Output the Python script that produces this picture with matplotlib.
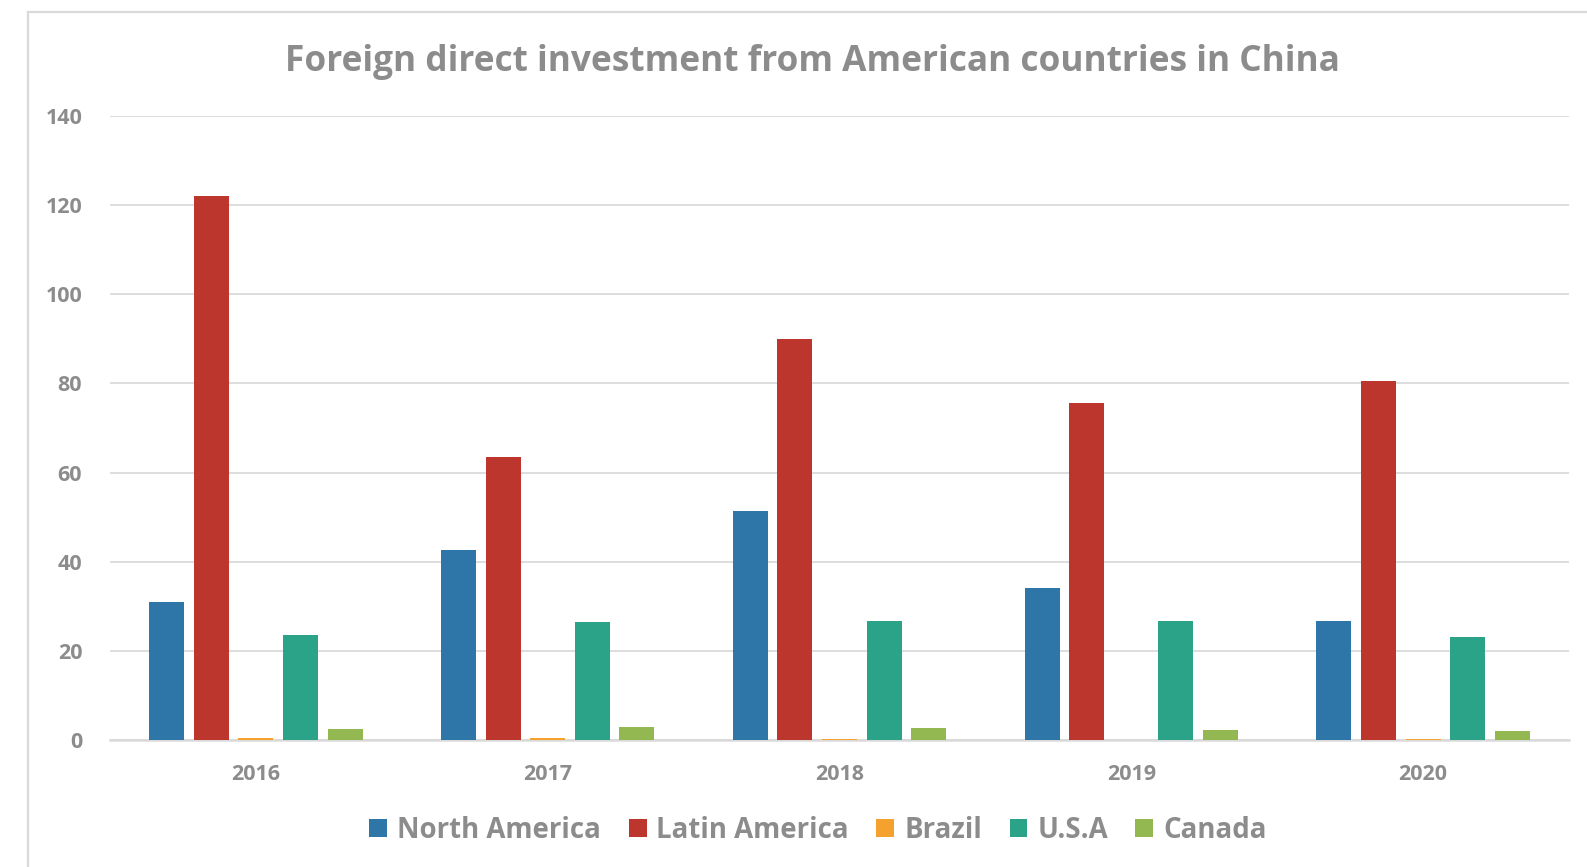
import matplotlib.pyplot as plt
import matplotlib.patches as mpatches
import numpy as np

# values
years = ["2016", "2017", "2018", "2019", "2020"]
series = ["North America", "Latin America", "Brazil", "U.S.A", "Canada"]
north_america = [30.9, 42.7, 51.4, 34.1, 26.8]
latin_america = [122.0, 63.4, 90.0, 75.7, 80.5]
brazil = [0.5, 0.5, 0.3, 0.1, 0.3]
usa = [23.6, 26.4, 26.8, 26.8, 23.0]
canada = [2.5, 3.0, 2.7, 2.3, 2.0]

colors = ["#2E75A8", "#BD362E", "#F4A12E", "#2BA388", "#94B851"]
gray = "#8C8C8C"
grid_col = "#DADADA"

plt.rcParams['font.family'] = ['Open Sans', 'DejaVu Sans']

fig = plt.figure(figsize=(15.87, 8.67), dpi=100)
ax = fig.add_axes([110 / 1587, 127 / 867, 1459 / 1587, 624 / 867])

# light chart border like the source
fig.patches.append(mpatches.Rectangle((28 / 1587, -0.1), 1.2, 1.1 - 12 / 867,
                                      transform=fig.transFigure, fill=False,
                                      edgecolor=grid_col, linewidth=1.6))

x = np.arange(len(years))
pitch = 0.153
width = 0.12
data = [north_america, latin_america, brazil, usa, canada]
for i, (name, vals) in enumerate(zip(series, data)):
    ax.bar(x + (i - 2) * pitch, vals, width, color=colors[i], label=name,
           edgecolor="none", zorder=3)

ax.set_xlim(-0.5, 4.5)
ax.set_ylim(0, 140)
ax.set_yticks(range(0, 141, 20))
ax.set_xticks(x)
ax.set_xticklabels(years)
ax.grid(axis="y", color=grid_col, linewidth=1.3, zorder=0)
for s in ["top", "right", "left"]:
    ax.spines[s].set_visible(False)
ax.spines["bottom"].set_color(grid_col)
ax.spines["bottom"].set_linewidth(1.8)
ax.spines["bottom"].set_zorder(2)
ax.tick_params(axis="both", length=0, colors=gray, labelsize=15.5)
ax.tick_params(axis="x", pad=17)
ax.tick_params(axis="y", pad=20)
for lbl in ax.get_xticklabels() + ax.get_yticklabels():
    lbl.set_fontweight("bold")

fig.text(812 / 1587, 1 - 62 / 867, "Foreign direct investment from American countries in China",
         ha="center", va="center", fontsize=25.4, fontweight="bold", color=gray)

leg = fig.legend(loc="center", bbox_to_anchor=(818 / 1587, 1 - 830 / 867), ncol=5,
                 frameon=False, fontsize=19.9, handlelength=0.65, handleheight=0.65,
                 handletextpad=0.35, columnspacing=1.0)
for t in leg.get_texts():
    t.set_color(gray)
    t.set_fontweight("bold")
for h in leg.legend_handles:
    h.set_edgecolor("none")

fig.savefig("out.png", dpi=100)
